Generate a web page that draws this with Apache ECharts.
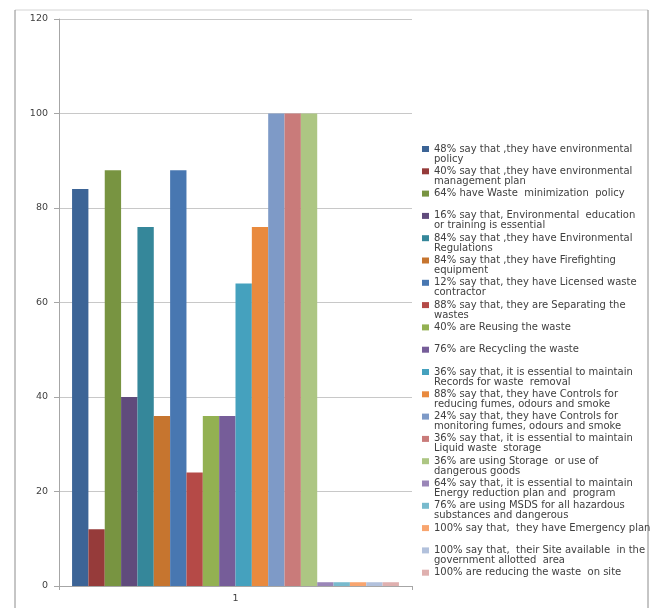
<!DOCTYPE html>
<html>
<head>
<meta charset="utf-8">
<script src="https://cdn.jsdelivr.net/npm/echarts@6/dist/echarts.min.js"></script>
<style>
  html, body { margin: 0; padding: 0; background: #fff; }
  #chart { width: 653px; height: 608px; }
</style>
</head>
<body>
<div id="chart"></div>
<script>
// category and y ticks
const categories = ['1']
const yTicks = { min: 0, max: 120, interval: 20 }

// legend names (line breaks as in the picture)
const seriesNames = [
  '48% say that ,they have environmental\npolicy',
  '40% say that ,they have environmental\nmanagement plan',
  '64% have Waste  minimization  policy',
  '16% say that, Environmental  education\nor training is essential',
  '84% say that ,they have Environmental\nRegulations',
  '84% say that ,they have Firefighting\nequipment',
  '12% say that, they have Licensed waste\ncontractor',
  '88% say that, they are Separating the\nwastes',
  '40% are Reusing the waste',
  '76% are Recycling the waste',
  '36% say that, it is essential to maintain\nRecords for waste  removal',
  '88% say that, they have Controls for\nreducing fumes, odours and smoke',
  '24% say that, they have Controls for\nmonitoring fumes, odours and smoke',
  '36% say that, it is essential to maintain\nLiquid waste  storage',
  '36% are using Storage  or use of\ndangerous goods',
  '64% say that, it is essential to maintain\nEnergy reduction plan and  program',
  '76% are using MSDS for all hazardous\nsubstances and dangerous',
  '100% say that,  they have Emergency plan',
  '100% say that,  their Site available  in the\ngovernment allotted  area',
  '100% are reducing the waste  on site'
]

// bar heights
const seriesValues = [84, 12, 88, 40, 76, 36, 88, 24, 36, 36, 64, 76, 100, 100, 100, 0.8, 0.8, 0.8, 0.8, 0.8]

const seriesColors = [
  '#3C6496', '#963B3A', '#789441', '#604B7C', '#35879A', '#C6752F',
  '#4877B1', '#B54A47', '#93B152', '#765D99', '#45A1BE', '#E98A3E',
  '#7E9AC7', '#C97B7A', '#ADC683', '#9A86B8', '#78BACD', '#F8A56F',
  '#B2C1DC', '#DFB0AF'
]

const chart = echarts.init(document.getElementById('chart'))

// blank first line so the marker sits beside the first text line
const legendText = name => {
  const lines = name.split('\n')
  if (lines.length < 2) lines.push('\u00a0')
  return '\u00a0\n' + lines.join('\n')
}

const font = 'DejaVu Sans'

const option = {
  backgroundColor: '#fff',
  animation: false,
  color: seriesColors,
  textStyle: { fontFamily: font },
  grid: { left: 59, top: 19, width: 353, height: 567 },
  legend: {
    orient: 'vertical',
    left: 422,
    top: 134,
    padding: 0,
    itemGap: -7.7,
    itemWidth: 7,
    itemHeight: 6,
    icon: 'rect',
    selectedMode: false,
    data: seriesNames,
    formatter: legendText,
    textStyle: {
      fontFamily: font,
      fontSize: 10,
      color: '#404040',
      lineHeight: 10
    }
  },
  xAxis: {
    type: 'category',
    data: categories,
    axisLine: { lineStyle: { color: '#a6a6a6' } },
    axisTick: { show: true, length: 4, lineStyle: { color: '#a6a6a6' } },
    axisLabel: { fontSize: 9.5, color: '#404040', margin: 8 }
  },
  yAxis: {
    type: 'value',
    min: yTicks.min,
    max: yTicks.max,
    interval: yTicks.interval,
    axisLine: { show: true, lineStyle: { color: '#a6a6a6' } },
    axisTick: { show: true, length: 5, lineStyle: { color: '#a6a6a6' } },
    axisLabel: { fontSize: 9.5, color: '#404040', margin: 11 },
    splitLine: { lineStyle: { color: '#c8c8c8', width: 1.2 } }
  },
  graphic: [
    { type: 'line', shape: { x1: 15, y1: 10, x2: 648, y2: 10 }, style: { stroke: '#d4d4d4', lineWidth: 1 } },
    { type: 'line', shape: { x1: 15, y1: 10, x2: 15, y2: 608 }, style: { stroke: '#8c8c8c', lineWidth: 1 } },
    { type: 'line', shape: { x1: 648, y1: 10, x2: 648, y2: 608 }, style: { stroke: '#8c8c8c', lineWidth: 1 } }
  ],
  series: seriesNames.map((name, i) => ({
    name: name,
    type: 'bar',
    barGap: '0%',
    barCategoryGap: '7.4%',
    data: [seriesValues[i]]
  }))
}

chart.setOption(option)
</script>
</body>
</html>
